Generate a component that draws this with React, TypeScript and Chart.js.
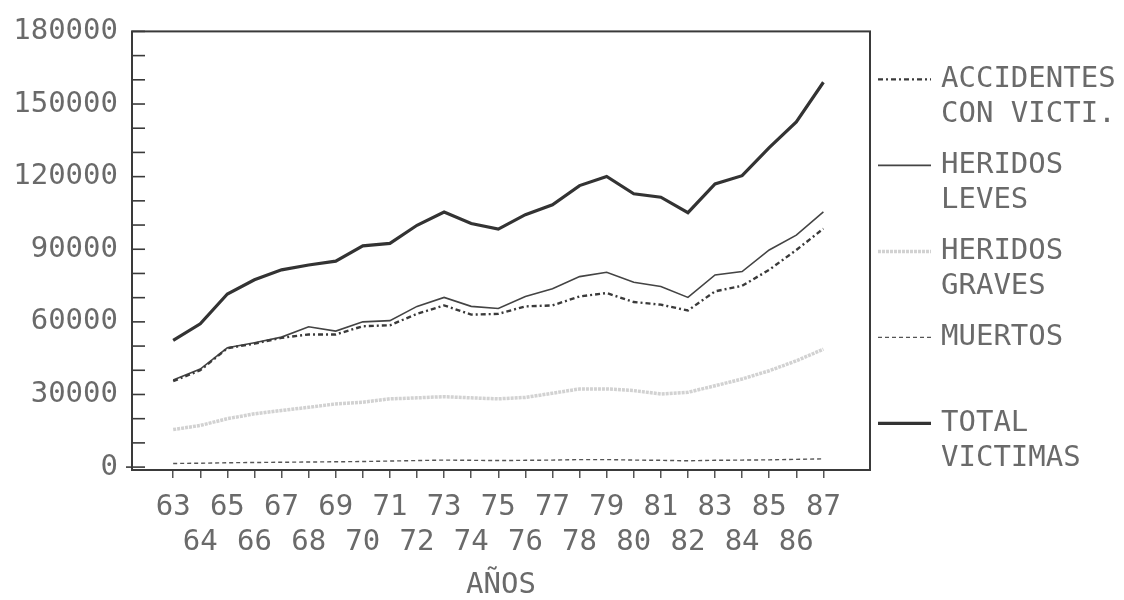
import React, { useEffect, useRef } from 'react';
import { Chart, registerables } from 'chart.js';

Chart.register(...registerables);

// ---- data ----
const years = [63, 64, 65, 66, 67, 68, 69, 70, 71, 72, 73, 74, 75, 76, 77, 78, 79, 80, 81, 82, 83, 84, 85, 86, 87];
const accidentesConVictimas = [35500, 40000, 49100, 51000, 53400, 54800, 54800, 58200, 58600, 63300, 66800, 63000, 63300, 66400, 66800, 70500, 71900, 68200, 67100, 64700, 72600, 74900, 81500, 89700, 98500];
const heridosLeves = [36000, 40500, 49300, 51400, 53700, 58000, 56200, 60000, 60500, 66400, 70100, 66400, 65500, 70500, 73700, 78700, 80500, 76400, 74600, 70100, 79400, 80800, 89700, 95800, 105400];
const heridosGraves = [15500, 17200, 20000, 22000, 23400, 24700, 26100, 26800, 28200, 28600, 29100, 28600, 28200, 28800, 30500, 32300, 32300, 31600, 30200, 30900, 33600, 36400, 39800, 43900, 48700];
const muertos = [1500, 1600, 1800, 1900, 2000, 2100, 2200, 2300, 2500, 2700, 2900, 2800, 2700, 2800, 2900, 3100, 3100, 2900, 2800, 2600, 2800, 2900, 3000, 3200, 3400];
const totalVictimas = [52400, 59200, 71500, 77400, 81500, 83500, 85100, 91400, 92400, 99900, 105400, 100600, 98300, 104300, 108400, 116300, 120100, 112900, 111500, 105100, 117000, 120400, 132000, 142600, 159000];

const yMinorTicks = [0, 10000, 20000, 30000, 40000, 50000, 60000, 70000, 80000, 90000, 100000, 110000, 120000, 130000, 140000, 150000, 160000, 170000, 180000];
const yLabelStep = 30000;

const legendLabels = [
  ['ACCIDENTES', 'CON VICTI.'],
  ['HERIDOS', 'LEVES'],
  ['HERIDOS', 'GRAVES'],
  ['MUERTOS'],
  ['TOTAL', 'VICTIMAS'],
];
const xTitle = 'AÑOS';

const FONT = '"DejaVu Sans Mono", monospace';
const TEXT_COLOR = '#6a6a6a';
const AXIS_COLOR = '#3a3a3a';

const toPoints = (vals: number[]) => years.map((yr, i) => ({ x: yr, y: vals[i] }));

const decorPlugin = {
  id: 'decor',
  afterDraw(chart: any) {
    const { ctx, chartArea: a, scales } = chart;
    const y = scales.y;
    ctx.save();
    // plot frame
    ctx.strokeStyle = AXIS_COLOR;
    ctx.lineWidth = 2;
    ctx.setLineDash([]);
    ctx.strokeRect(a.left, a.top, a.right - a.left, a.bottom - a.top);
    // inward y tick marks
    ctx.lineWidth = 1.6;
    y.ticks.forEach((t: any) => {
      const py = y.getPixelForValue(t.value);
      ctx.beginPath();
      ctx.moveTo(a.left, py);
      ctx.lineTo(a.left + 13, py);
      ctx.stroke();
    });
    // small outward tick at zero
    const p0 = y.getPixelForValue(0);
    ctx.beginPath();
    ctx.moveTo(a.left - 6, p0);
    ctx.lineTo(a.left, p0);
    ctx.stroke();

    // legend on the right
    const lx0 = a.right + 8;
    const lx1 = a.right + 61;
    const tx = a.right + 71;
    const y0 = a.top + 48;
    const step = 86;
    const lineH = 35;
    ctx.font = `29px ${FONT}`;
    ctx.textBaseline = 'middle';
    ctx.textAlign = 'left';
    chart.data.datasets.forEach((ds: any, i: number) => {
      const ly = y0 + step * i;
      ctx.strokeStyle = ds.borderColor;
      ctx.lineWidth = ds.borderWidth;
      ctx.setLineDash(ds.borderDash || []);
      ctx.beginPath();
      ctx.moveTo(lx0, ly);
      ctx.lineTo(lx1, ly);
      ctx.stroke();
      ctx.setLineDash([]);
      ctx.fillStyle = TEXT_COLOR;
      legendLabels[i].forEach((line, j) => {
        ctx.fillText(line, tx, ly + j * lineH);
      });
    });
    ctx.restore();
  },
};

export default function App() {
  const ref = useRef<HTMLCanvasElement | null>(null);

  useEffect(() => {
    if (!ref.current) return;
    const chart = new Chart(ref.current, {
      type: 'line',
      data: {
        datasets: [
          {
            label: legendLabels[0].join(' '),
            data: toPoints(accidentesConVictimas),
            borderColor: '#3a3a3a',
            borderWidth: 2.4,
            borderDash: [5, 3, 2, 3],
            pointRadius: 0,
            tension: 0,
          },
          {
            label: legendLabels[1].join(' '),
            data: toPoints(heridosLeves),
            borderColor: '#444444',
            borderWidth: 1.6,
            pointRadius: 0,
            tension: 0,
          },
          {
            label: legendLabels[2].join(' '),
            data: toPoints(heridosGraves),
            borderColor: '#d2d2d2',
            borderWidth: 3.5,
            borderDash: [3, 1],
            pointRadius: 0,
            tension: 0,
          },
          {
            label: legendLabels[3].join(' '),
            data: toPoints(muertos),
            borderColor: '#555555',
            borderWidth: 1.4,
            borderDash: [4, 3],
            pointRadius: 0,
            tension: 0,
          },
          {
            label: legendLabels[4].join(' '),
            data: toPoints(totalVictimas),
            borderColor: '#333333',
            borderWidth: 3.2,
            pointRadius: 0,
            tension: 0,
          },
        ],
      },
      options: {
        animation: false,
        responsive: false,
        maintainAspectRatio: false,
        layout: { padding: { top: 28, right: 254, left: 0, bottom: 0 } },
        plugins: {
          legend: { display: false },
          tooltip: { enabled: false },
        },
        scales: {
          x: {
            type: 'linear',
            min: 61.48,
            max: 88.72,
            afterBuildTicks: (scale: any) => {
              scale.ticks = years.map((v) => ({ value: v }));
            },
            afterFit: (scale: any) => {
              scale.height = 130;
            },
            border: { display: false },
            grid: {
              drawOnChartArea: false,
              drawTicks: true,
              tickLength: 8,
              color: '#555555',
              lineWidth: 1.5,
            },
            ticks: {
              autoSkip: false,
              maxRotation: 0,
              minRotation: 0,
              padding: 12,
              color: TEXT_COLOR,
              font: { family: FONT, size: 29, lineHeight: 1.2 },
              callback: (v: any) => {
                const n = Number(v);
                return n % 2 === 1 ? [String(n), ''] : ['', String(n)];
              },
            },
            title: {
              display: true,
              text: xTitle,
              color: TEXT_COLOR,
              font: { family: FONT, size: 29, lineHeight: 1.0 },
              padding: { top: 0, bottom: 0 },
            },
          },
          y: {
            type: 'linear',
            min: -1200,
            max: 180000,
            afterBuildTicks: (scale: any) => {
              scale.ticks = yMinorTicks.map((v) => ({ value: v }));
            },
            afterFit: (scale: any) => {
              scale.width = 132;
            },
            border: { display: false },
            grid: { display: false, drawTicks: false },
            ticks: {
              autoSkip: false,
              padding: 14,
              color: TEXT_COLOR,
              font: { family: FONT, size: 29 },
              callback: (v: any) => (Number(v) % yLabelStep === 0 ? String(v) : ''),
            },
          },
        },
      },
      plugins: [decorPlugin],
    });
    return () => chart.destroy();
  }, []);

  return (
    <div style={{ position: 'fixed', left: 0, top: 0, width: 1124, height: 600, background: '#ffffff' }}>
      <canvas ref={ref} width={1124} height={600} />
    </div>
  );
}
